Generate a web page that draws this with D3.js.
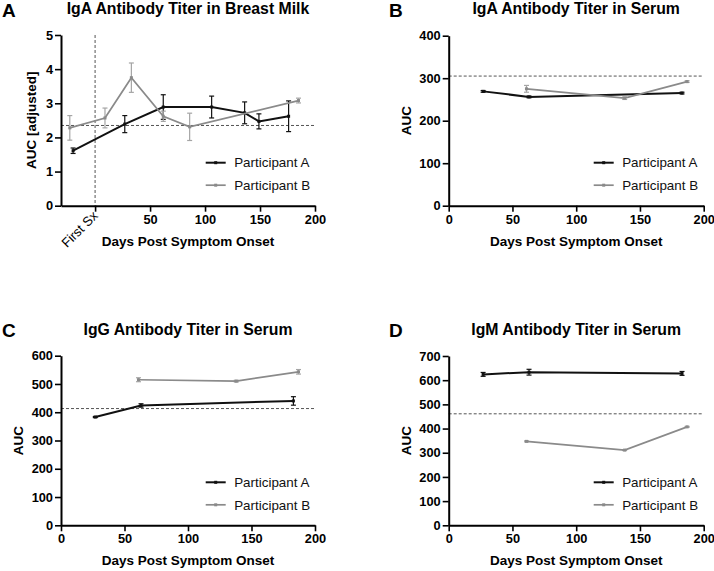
<!DOCTYPE html>
<html>
<head>
<meta charset="utf-8">
<script src="https://cdn.jsdelivr.net/npm/d3@7"></script>
<style>
  body { margin: 0; background: #fff; }
  svg { display: block; font-family: "Liberation Sans", Arial, sans-serif; }
</style>
</head>
<body>
<div id="fig"></div>
<script>
// Antibody titers, four panels

// A - IgA in breast milk
const milkDaysA = [-20, 27, 62, 106, 136, 149, 176];
const milkAucA = [1.61, 2.39, 2.89, 2.89, 2.72, 2.47, 2.62];
const milkErrA = [0.08, 0.25, 0.36, 0.32, 0.32, 0.22, 0.45];
const milkDaysB = [-23, 9, 33, 62, 86, 185];
const milkAucB = [2.28, 2.57, 3.75, 2.62, 2.31, 3.08];
const milkErrB = [0.36, 0.29, 0.43, 0.15, 0.40, 0.07];

// serum sampling days
const serumDaysA = [27, 63, 183];
const serumDaysB = [61, 138, 187];

// B - IgA in serum
const igaAucA = [269, 256, 265];
const igaErrA = [2, 2, 2];
const igaAucB = [275, 253, 292];
const igaErrB = [8, 3, 2];

// C - IgG in serum
const iggAucA = [383, 424, 440];
const iggErrA = [2, 6, 15];
const iggAucB = [515, 510, 543];
const iggErrB = [7, 3, 8];

// D - IgM in serum
const igmAucA = [624, 633, 628];
const igmErrA = [8, 12, 8];
const igmAucB = [347, 311, 407];
const igmErrB = [2, 2, 2];

const cutoffs = [2.35, 305, 413, 461];
const titles = [
  "IgA Antibody Titer in Breast Milk",
  "IgA Antibody Titer in Serum",
  "IgG Antibody Titer in Serum",
  "IgM Antibody Titer in Serum"
];
const letters = ["A", "B", "C", "D"];
const yLabels = ["AUC [adjusted]", "AUC", "AUC", "AUC"];
const yMax = [5, 400, 600, 700];
const xLabel = "Days Post Symptom Onset";
const seriesNames = ["Participant A", "Participant B"];

const colorA = "#111";
const colorB = "#8a8a8a";
const errColorB = "#a5a5a5";

const width = 714, height = 571;
const svg = d3.select("#fig").append("svg")
  .attr("width", width).attr("height", height);
svg.append("rect").attr("width", width).attr("height", height).attr("fill", "#fff");

function zip(days, auc, err) {
  return days.map((d, i) => ({ day: d, auc: auc[i], err: err[i] }));
}

const panels = [
  { left: 61, right: 315, top: 35, bottom: 205.7, xMin: -31, yLabelX: 36, titleY: 14, letterX: 2,
    series: [zip(milkDaysA, milkAucA, milkErrA), zip(milkDaysB, milkAucB, milkErrB)] },
  { left: 448.7, right: 703.7, top: 35.7, bottom: 205.7, xMin: 0, yLabelX: 411, titleY: 14, letterX: 389,
    series: [zip(serumDaysA, igaAucA, igaErrA), zip(serumDaysB, igaAucB, igaErrB)] },
  { left: 61, right: 315, top: 355.7, bottom: 525.3, xMin: 0, yLabelX: 23, titleY: 334.5, letterX: 2,
    series: [zip(serumDaysA, iggAucA, iggErrA), zip(serumDaysB, iggAucB, iggErrB)] },
  { left: 448.7, right: 703.7, top: 356, bottom: 525.3, xMin: 0, yLabelX: 411, titleY: 334.5, letterX: 389,
    series: [zip(serumDaysA, igmAucA, igmErrA), zip(serumDaysB, igmAucB, igmErrB)] }
];

panels.forEach((p, k) => {
  const g = svg.append("g");
  const x = d3.scaleLinear().domain([p.xMin, 200]).range([p.left, p.right]);
  const y = d3.scaleLinear().domain([0, yMax[k]]).range([p.bottom, p.top]);
  const cx = (p.left + p.right) / 2;

  // titre + lettre
  g.append("text").attr("x", cx).attr("y", p.titleY)
    .attr("text-anchor", "middle").attr("font-weight", "bold").attr("font-size", 15.8)
    .text(titles[k]);
  g.append("text").attr("x", p.letterX).attr("y", p.titleY + 2.5)
    .attr("font-weight", "bold").attr("font-size", 19)
    .text(letters[k]);

  // lignes pointillées (seuil)
  g.append("line")
    .attr("x1", x(p.xMin)).attr("x2", x(200))
    .attr("y1", y(cutoffs[k])).attr("y2", y(cutoffs[k]))
    .attr("stroke", "#555").attr("stroke-width", 1).attr("stroke-dasharray", "3,2");
  if (k === 0) {
    g.append("line")
      .attr("x1", x(0)).attr("x2", x(0))
      .attr("y1", y(5)).attr("y2", y(0))
      .attr("stroke", "#555").attr("stroke-width", 1).attr("stroke-dasharray", "3,2");
  }

  // séries
  const line = d3.line().x(d => x(d.day)).y(d => y(d.auc));
  p.series.forEach((data, s) => {
    const col = s === 0 ? colorA : colorB;
    const ecol = s === 0 ? colorA : errColorB;
    const sg = g.append("g");
    data.forEach(d => {
      sg.append("line").attr("x1", x(d.day)).attr("x2", x(d.day))
        .attr("y1", y(d.auc - d.err)).attr("y2", y(d.auc + d.err))
        .attr("stroke", ecol).attr("stroke-width", 1.2);
      [d.auc - d.err, d.auc + d.err].forEach(v => {
        sg.append("line").attr("x1", x(d.day) - 2.5).attr("x2", x(d.day) + 2.5)
          .attr("y1", y(v)).attr("y2", y(v))
          .attr("stroke", ecol).attr("stroke-width", 1.2);
      });
    });
    sg.append("path").datum(data)
      .attr("d", line).attr("fill", "none")
      .attr("stroke", col).attr("stroke-width", s === 0 ? 2 : 1.7);
    sg.selectAll("rect.pt").data(data).join("rect")
      .attr("x", d => x(d.day) - 1.5).attr("y", d => y(d.auc) - 1.5)
      .attr("width", 3).attr("height", 3).attr("fill", col);
  });

  // axes
  const yAxis = g.append("g").attr("transform", `translate(${p.left},0)`)
    .call(d3.axisLeft(y).ticks(yMax[k] === 5 ? 5 : yMax[k] / 100).tickSize(6).tickSizeOuter(0).tickPadding(2));
  const xAxis = g.append("g").attr("transform", `translate(0,${p.bottom})`)
    .call(d3.axisBottom(x).tickValues([0, 50, 100, 150, 200]).tickSize(6).tickSizeOuter(0).tickPadding(3)
      .tickFormat(d => (k === 0 && d === 0) ? "First Sx" : d));
  [yAxis, xAxis].forEach(ax => {
    ax.select(".domain").attr("stroke", "#000").attr("stroke-width", 2);
    ax.selectAll(".tick line").attr("stroke", "#000").attr("stroke-width", 1.6);
    ax.selectAll(".tick text").attr("fill", "#000").attr("font-size", 12.8)
      .attr("font-weight", "bold").attr("font-family", "Liberation Sans, Arial, sans-serif");
  });
  if (k === 0) {
    xAxis.selectAll(".tick").filter(d => d === 0).select("text")
      .attr("text-anchor", "end").attr("dy", null).attr("y", 0)
      .attr("font-weight", "normal").attr("font-size", 13.2)
      .attr("transform", "translate(3,11) rotate(-45)");
  }

  // titres d'axes
  g.append("text").attr("x", cx).attr("y", p.bottom + 40)
    .attr("text-anchor", "middle").attr("font-weight", "bold").attr("font-size", 13.5)
    .text(xLabel);
  g.append("text")
    .attr("transform", `translate(${p.yLabelX},${(p.top + p.bottom) / 2}) rotate(-90)`)
    .attr("text-anchor", "middle").attr("font-weight", "bold").attr("font-size", 13.5)
    .text(yLabels[k]);

  // légende
  const lx = p.left + (k % 2 === 0 ? 144.7 : 145);
  const ly = p.bottom - 43;
  seriesNames.forEach((name, s) => {
    const col = s === 0 ? colorA : colorB;
    const yy = ly + s * 22.5;
    g.append("line").attr("x1", lx).attr("x2", lx + 20).attr("y1", yy).attr("y2", yy)
      .attr("stroke", col).attr("stroke-width", s === 0 ? 2 : 1.7);
    g.append("rect").attr("x", lx + 8.5).attr("y", yy - 1.5).attr("width", 3).attr("height", 3).attr("fill", col);
    g.append("text").attr("x", lx + 28.5).attr("y", yy + 4.7)
      .attr("font-size", 13.4).attr("fill", "#111").text(name);
  });
});
</script>
</body>
</html>
